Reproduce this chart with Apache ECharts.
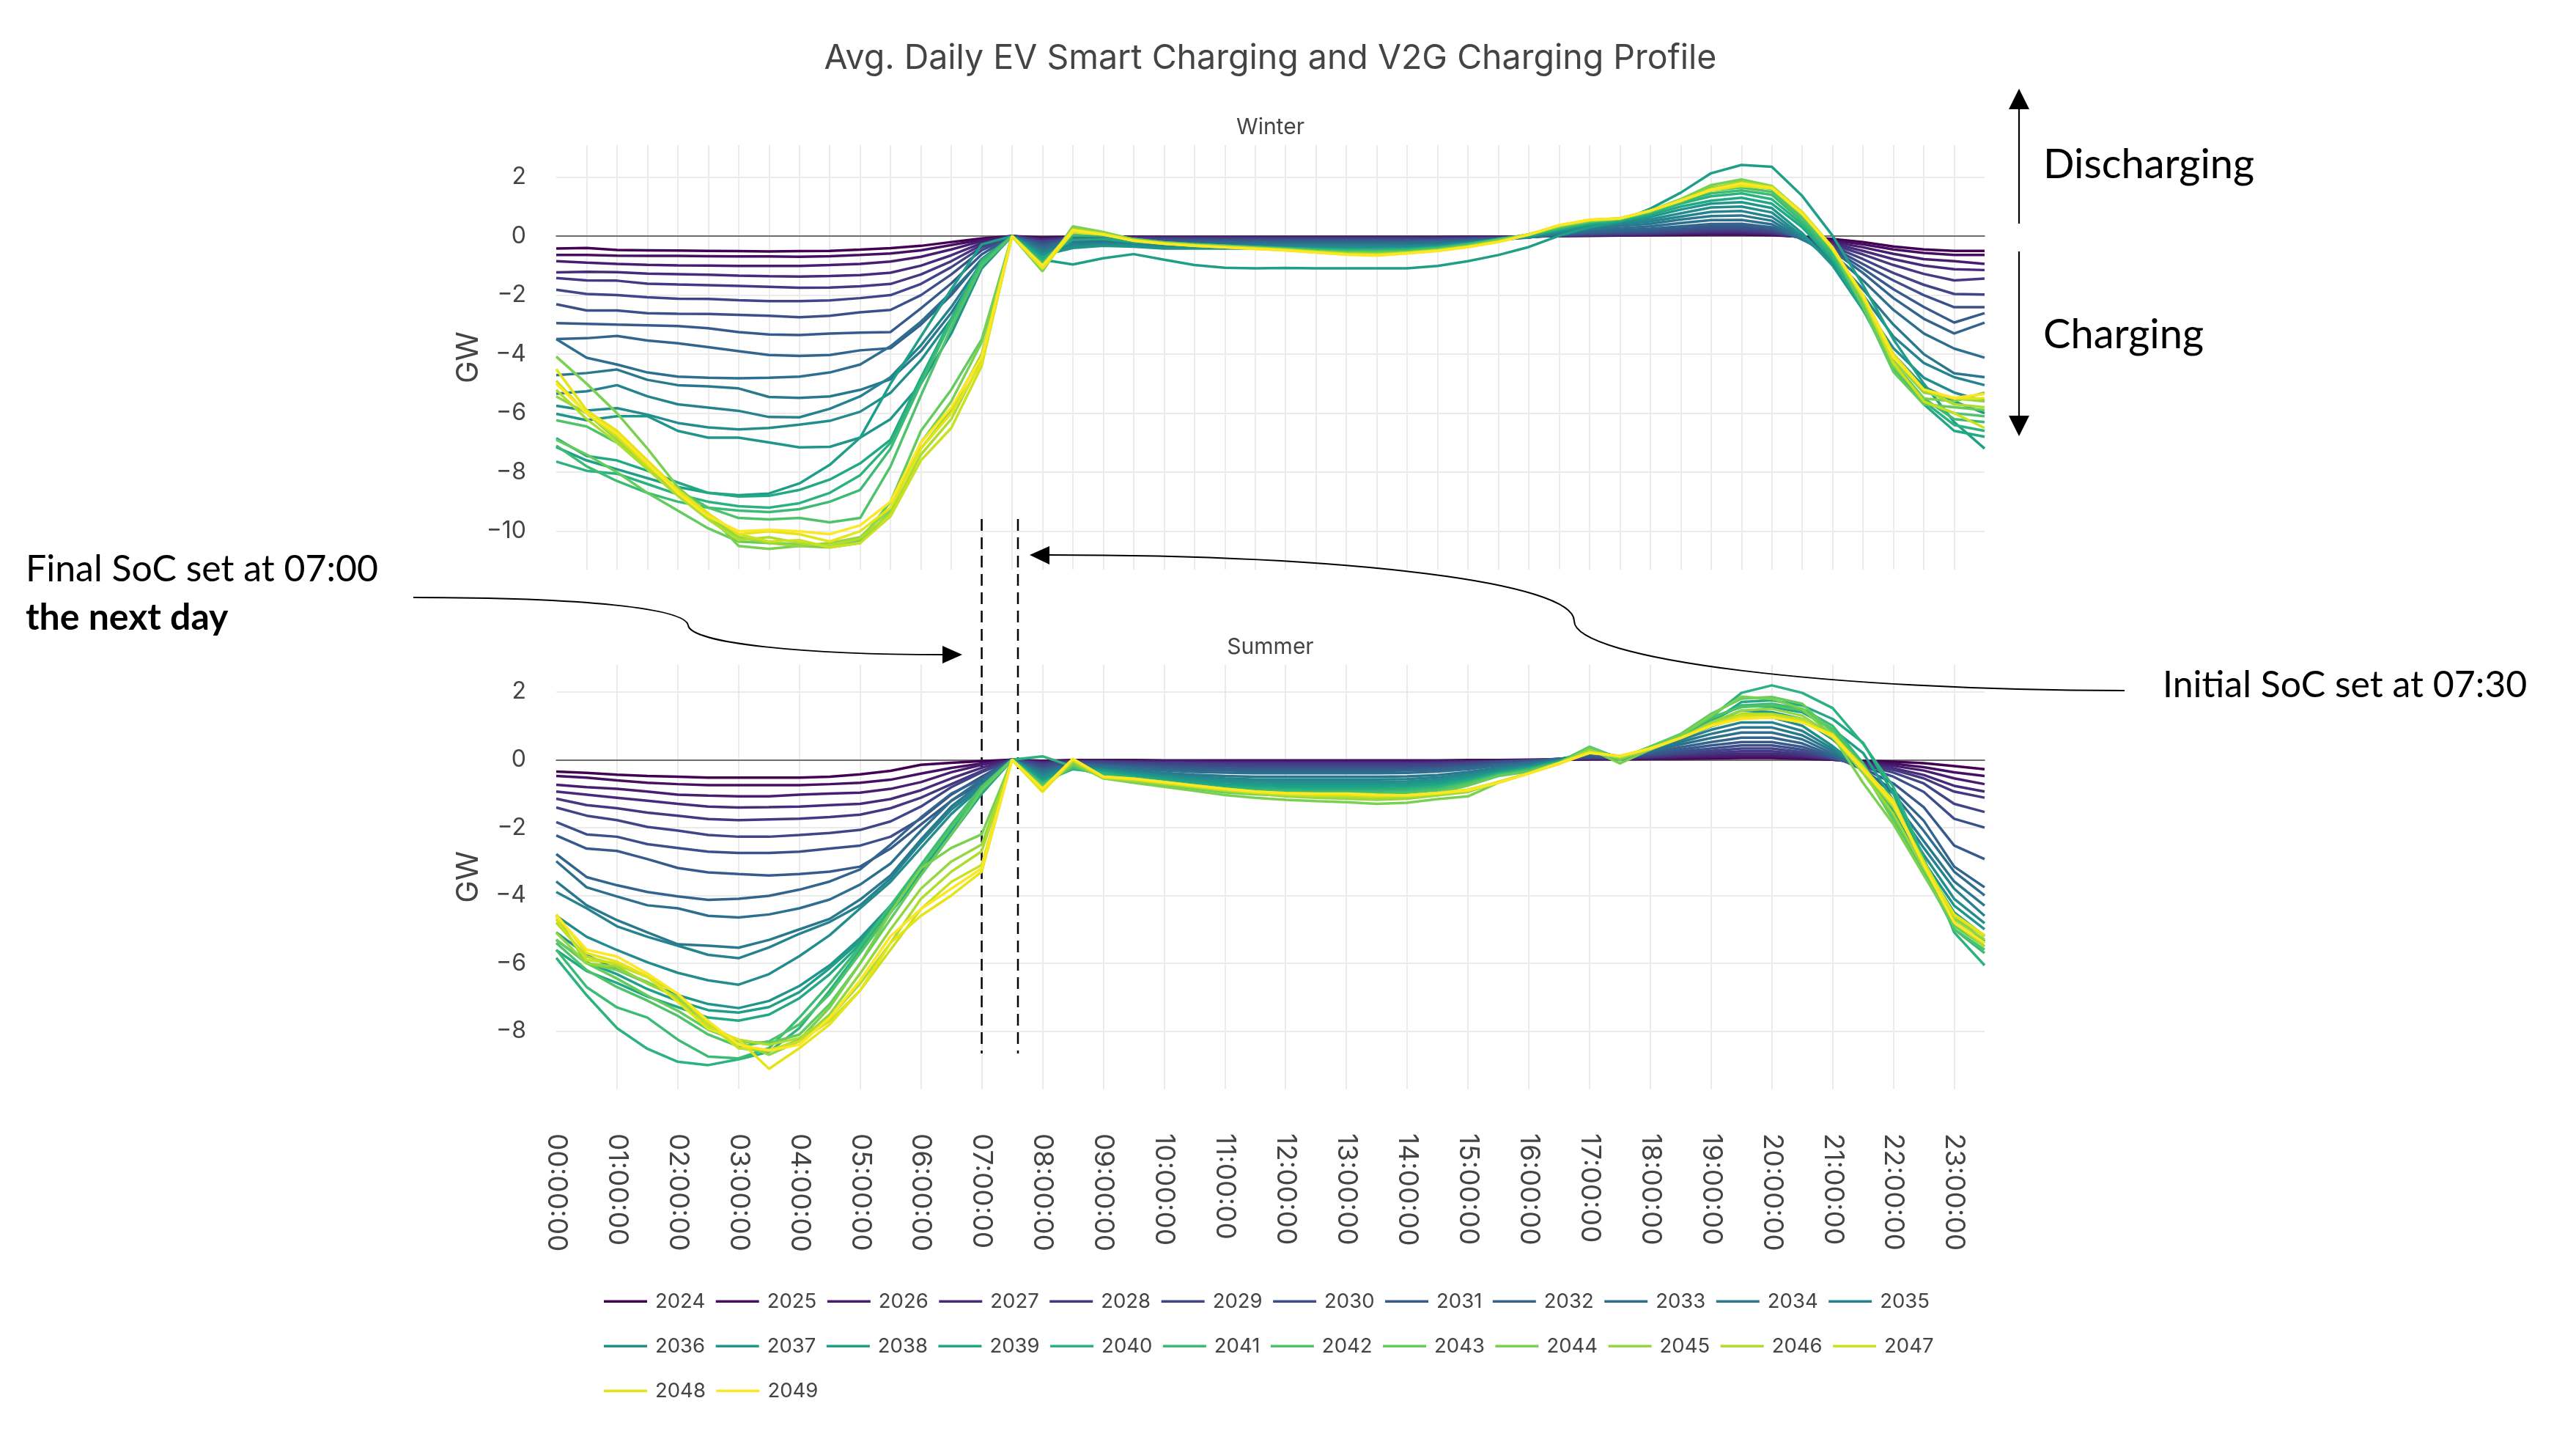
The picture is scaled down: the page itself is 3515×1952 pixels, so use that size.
<!DOCTYPE html>
<html>
<head>
<meta charset="utf-8">
<script src="https://cdn.jsdelivr.net/npm/echarts@6/dist/echarts.min.js"></script>
<style>html,body{margin:0;padding:0;background:#fff}#chart{width:3515px;height:1952px}</style>
</head>
<body>
<div id="chart"></div>
<script>
// ---------------- DATA ----------------
const categories = ['00:00:00','00:30:00','01:00:00','01:30:00','02:00:00','02:30:00','03:00:00','03:30:00','04:00:00','04:30:00','05:00:00','05:30:00','06:00:00','06:30:00','07:00:00','07:30:00','08:00:00','08:30:00','09:00:00','09:30:00','10:00:00','10:30:00','11:00:00','11:30:00','12:00:00','12:30:00','13:00:00','13:30:00','14:00:00','14:30:00','15:00:00','15:30:00','16:00:00','16:30:00','17:00:00','17:30:00','18:00:00','18:30:00','19:00:00','19:30:00','20:00:00','20:30:00','21:00:00','21:30:00','22:00:00','22:30:00','23:00:00','23:30:00'];
const years = ['2024','2025','2026','2027','2028','2029','2030','2031','2032','2033','2034','2035','2036','2037','2038','2039','2040','2041','2042','2043','2044','2045','2046','2047','2048','2049'];
const yTicksWinter = [-10,-8,-6,-4,-2,0,2];
const yTicksSummer = [-8,-6,-4,-2,0,2];

// Winter (GW), 48 half-hour values per year
const w2024 = [-0.42,-0.40,-0.47,-0.48,-0.49,-0.50,-0.51,-0.52,-0.51,-0.50,-0.46,-0.41,-0.33,-0.20,-0.08,0,
 -0.05,-0.02,-0.02,-0.02,-0.03,-0.03,-0.03,-0.03,-0.03,-0.03,-0.03,-0.03,-0.03,-0.03,-0.02,-0.02,
 -0.01,0.00,0.01,0.02,0.03,0.04,0.05,0.05,0.03,-0.02,-0.10,-0.20,-0.35,-0.45,-0.50,-0.50];
const w2025 = [-0.64,-0.64,-0.66,-0.67,-0.67,-0.68,-0.69,-0.69,-0.70,-0.68,-0.64,-0.59,-0.48,-0.30,-0.12,0,
 -0.08,-0.03,-0.03,-0.03,-0.04,-0.04,-0.04,-0.04,-0.04,-0.04,-0.04,-0.04,-0.04,-0.04,-0.03,-0.02,
 -0.01,0.01,0.02,0.03,0.04,0.06,0.07,0.08,0.05,-0.03,-0.15,-0.28,-0.45,-0.57,-0.64,-0.64];
const w2026 = [-0.85,-0.90,-0.94,-0.97,-0.99,-1.00,-1.01,-1.01,-1.01,-0.98,-0.94,-0.86,-0.70,-0.45,-0.17,0,
 -0.10,-0.04,-0.04,-0.04,-0.05,-0.05,-0.05,-0.05,-0.05,-0.05,-0.05,-0.05,-0.05,-0.05,-0.04,-0.03,
 -0.01,0.01,0.03,0.04,0.06,0.08,0.10,0.10,0.07,-0.03,-0.20,-0.38,-0.60,-0.78,-0.85,-0.94];
const w2027 = [-1.23,-1.21,-1.22,-1.27,-1.29,-1.31,-1.34,-1.36,-1.37,-1.35,-1.32,-1.24,-1.00,-0.65,-0.24,0,
 -0.13,-0.05,-0.05,-0.05,-0.06,-0.06,-0.06,-0.06,-0.06,-0.06,-0.06,-0.06,-0.06,-0.06,-0.05,-0.04,
 -0.02,0.01,0.04,0.05,0.07,0.10,0.13,0.14,0.09,-0.04,-0.25,-0.50,-0.78,-1.00,-1.12,-1.15];
const w2028 = [-1.42,-1.50,-1.51,-1.61,-1.64,-1.66,-1.69,-1.72,-1.75,-1.74,-1.70,-1.62,-1.30,-0.85,-0.30,0,
 -0.16,-0.06,-0.06,-0.07,-0.08,-0.08,-0.08,-0.08,-0.08,-0.08,-0.08,-0.08,-0.08,-0.08,-0.07,-0.05,
 -0.02,0.02,0.05,0.07,0.09,0.13,0.17,0.18,0.12,-0.05,-0.30,-0.62,-0.98,-1.28,-1.50,-1.44];
const w2029 = [-1.82,-1.96,-2.00,-2.07,-2.12,-2.13,-2.17,-2.20,-2.20,-2.18,-2.10,-2.00,-1.62,-1.05,-0.38,0,
 -0.20,-0.07,-0.08,-0.09,-0.10,-0.10,-0.10,-0.10,-0.10,-0.10,-0.10,-0.10,-0.10,-0.10,-0.08,-0.06,
 -0.03,0.02,0.06,0.09,0.12,0.16,0.21,0.22,0.15,-0.06,-0.35,-0.78,-1.25,-1.65,-1.96,-1.98];
const w2030 = [-2.31,-2.52,-2.52,-2.61,-2.63,-2.64,-2.67,-2.70,-2.75,-2.70,-2.58,-2.50,-2.00,-1.30,-0.48,0,
 -0.25,-0.08,-0.10,-0.11,-0.13,-0.13,-0.13,-0.13,-0.13,-0.13,-0.13,-0.13,-0.13,-0.12,-0.10,-0.07,
 -0.03,0.03,0.08,0.12,0.16,0.21,0.27,0.28,0.20,-0.07,-0.40,-0.95,-1.50,-2.00,-2.41,-2.41];
const w2031 = [-2.95,-2.97,-3.00,-3.02,-3.05,-3.12,-3.25,-3.33,-3.35,-3.30,-3.27,-3.25,-2.45,-1.60,-0.62,0,
 -0.30,-0.10,-0.12,-0.14,-0.16,-0.16,-0.16,-0.16,-0.16,-0.16,-0.16,-0.16,-0.16,-0.15,-0.12,-0.08,
 -0.03,0.04,0.10,0.15,0.20,0.27,0.34,0.35,0.25,-0.08,-0.45,-1.10,-1.80,-2.40,-2.93,-2.61];
const w2032 = [-3.49,-3.46,-3.38,-3.54,-3.63,-3.76,-3.90,-4.03,-4.06,-4.03,-3.87,-3.80,-3.00,-2.00,-0.78,0,
 -0.35,-0.12,-0.15,-0.17,-0.20,-0.20,-0.20,-0.20,-0.20,-0.20,-0.20,-0.20,-0.20,-0.18,-0.14,-0.09,
 -0.04,0.05,0.13,0.20,0.25,0.33,0.41,0.42,0.30,-0.10,-0.50,-1.25,-2.10,-2.80,-3.30,-2.93];
const w2033 = [-3.49,-4.12,-4.35,-4.62,-4.76,-4.80,-4.82,-4.80,-4.76,-4.62,-4.35,-3.73,-2.90,-1.90,-0.80,0,
 -0.42,-0.15,-0.18,-0.21,-0.25,-0.25,-0.25,-0.25,-0.25,-0.25,-0.25,-0.25,-0.25,-0.22,-0.17,-0.10,
 -0.04,0.07,0.18,0.27,0.33,0.44,0.54,0.55,0.40,-0.12,-0.60,-1.50,-2.50,-3.30,-3.81,-4.12];
const w2034 = [-4.71,-4.64,-4.52,-4.87,-5.05,-5.09,-5.16,-5.45,-5.48,-5.43,-5.21,-4.85,-3.90,-2.60,-1.00,0,
 -0.50,-0.20,-0.22,-0.25,-0.30,-0.30,-0.30,-0.30,-0.30,-0.30,-0.30,-0.30,-0.30,-0.27,-0.20,-0.12,
 -0.05,0.09,0.23,0.35,0.42,0.56,0.68,0.70,0.52,-0.10,-0.70,-1.80,-3.00,-4.00,-4.65,-4.78];
const w2035 = [-5.34,-5.26,-5.05,-5.43,-5.70,-5.81,-5.92,-6.13,-6.14,-5.85,-5.43,-4.78,-3.70,-2.40,-0.90,0,
 -0.55,-0.28,-0.26,-0.28,-0.33,-0.33,-0.33,-0.33,-0.33,-0.33,-0.33,-0.33,-0.33,-0.30,-0.22,-0.12,
 -0.04,0.12,0.28,0.42,0.50,0.66,0.82,0.85,0.65,-0.05,-0.80,-2.00,-3.40,-4.30,-4.78,-5.05];
const w2036 = [-5.75,-5.91,-5.83,-6.05,-6.33,-6.48,-6.55,-6.50,-6.39,-6.26,-5.95,-5.31,-4.20,-2.80,-1.00,0,
 -0.60,-0.35,-0.30,-0.32,-0.37,-0.37,-0.37,-0.37,-0.37,-0.37,-0.37,-0.37,-0.36,-0.32,-0.23,-0.12,
 -0.03,0.15,0.33,0.47,0.57,0.77,0.97,1.00,0.80,0.00,-0.90,-2.30,-3.80,-4.80,-5.30,-5.60];
const w2037 = [-6.02,-6.24,-6.10,-6.10,-6.60,-6.83,-6.83,-6.99,-7.16,-7.14,-6.83,-6.20,-5.00,-3.30,-1.10,0,
 -0.65,-0.40,-0.33,-0.36,-0.42,-0.42,-0.42,-0.42,-0.42,-0.42,-0.42,-0.42,-0.41,-0.36,-0.25,-0.12,
 -0.02,0.18,0.38,0.50,0.65,0.90,1.10,1.15,0.95,0.10,-1.00,-2.50,-4.00,-5.10,-5.60,-6.00];
const w2038 = [-7.15,-7.60,-7.90,-8.20,-8.50,-8.70,-8.78,-8.72,-8.38,-7.75,-6.83,-5.00,-3.40,-1.80,-0.28,0,
 -0.80,-0.96,-0.75,-0.61,-0.80,-0.98,-1.07,-1.09,-1.08,-1.09,-1.09,-1.09,-1.09,-1.01,-0.85,-0.64,
 -0.37,0.01,0.30,0.50,0.93,1.47,2.13,2.41,2.35,1.36,0.01,-1.66,-3.50,-5.00,-6.30,-7.20];
const w2039 = [-6.85,-7.45,-7.60,-7.95,-8.35,-8.70,-8.82,-8.80,-8.60,-8.25,-7.70,-6.90,-4.80,-2.80,-0.80,0,
 -0.75,-0.12,-0.10,-0.20,-0.25,-0.30,-0.34,-0.37,-0.40,-0.43,-0.45,-0.45,-0.43,-0.37,-0.26,-0.12,
 0.00,0.22,0.42,0.52,0.72,1.00,1.20,1.30,1.10,0.30,-0.80,-2.50,-4.40,-5.70,-6.60,-6.80];
const w2040 = [-7.64,-7.95,-8.05,-8.40,-8.75,-9.00,-9.15,-9.20,-9.05,-8.70,-8.10,-7.00,-4.90,-2.80,-0.85,0,
 -0.85,0.00,0.00,-0.15,-0.22,-0.28,-0.33,-0.37,-0.41,-0.45,-0.48,-0.48,-0.46,-0.39,-0.27,-0.10,
 0.02,0.25,0.45,0.55,0.78,1.10,1.35,1.45,1.25,0.40,-0.70,-2.40,-4.40,-5.60,-6.40,-6.60];
const w2041 = [-7.10,-7.80,-8.30,-8.70,-9.00,-9.20,-9.30,-9.35,-9.25,-9.00,-8.60,-7.20,-5.00,-2.90,-0.90,0,
 -0.90,0.10,0.05,-0.12,-0.21,-0.28,-0.33,-0.37,-0.42,-0.47,-0.50,-0.51,-0.49,-0.41,-0.28,-0.10,
 0.04,0.28,0.48,0.57,0.80,1.15,1.45,1.55,1.40,0.50,-0.60,-2.30,-4.30,-5.50,-6.20,-6.30];
const w2042 = [-6.24,-6.45,-7.00,-7.80,-8.60,-9.20,-9.55,-9.60,-9.55,-9.70,-9.55,-7.80,-5.40,-3.10,-1.00,0,
 -0.95,0.20,0.08,-0.10,-0.21,-0.28,-0.33,-0.38,-0.43,-0.49,-0.53,-0.54,-0.51,-0.43,-0.30,-0.12,
 0.05,0.30,0.50,0.58,0.82,1.18,1.55,1.65,1.50,0.60,-0.50,-2.30,-4.50,-5.60,-6.00,-6.10];
const w2043 = [-6.90,-7.40,-8.00,-8.70,-9.30,-9.90,-10.35,-10.40,-10.45,-10.50,-10.30,-9.00,-6.60,-5.20,-3.50,0,
 -1.05,0.30,0.12,-0.10,-0.22,-0.29,-0.34,-0.39,-0.44,-0.50,-0.55,-0.56,-0.53,-0.45,-0.32,-0.14,
 0.06,0.33,0.50,0.58,0.84,1.20,1.65,1.75,1.60,0.70,-0.45,-2.40,-4.60,-5.70,-5.80,-5.90];
const w2044 = [-4.08,-5.00,-6.00,-7.20,-8.50,-9.40,-10.50,-10.60,-10.50,-10.55,-10.40,-9.30,-7.00,-5.60,-3.60,0,
 -1.19,0.33,0.14,-0.12,-0.23,-0.30,-0.35,-0.40,-0.45,-0.52,-0.57,-0.59,-0.55,-0.47,-0.34,-0.16,
 0.06,0.35,0.52,0.60,0.86,1.25,1.73,1.92,1.70,0.80,-0.40,-2.20,-4.40,-5.50,-5.60,-5.30];
const w2045 = [-5.43,-6.00,-6.90,-7.80,-8.70,-9.50,-10.20,-10.40,-10.50,-10.40,-10.20,-9.20,-7.20,-5.90,-4.00,0,
 -1.10,0.25,0.10,-0.13,-0.24,-0.31,-0.36,-0.41,-0.46,-0.53,-0.59,-0.61,-0.56,-0.48,-0.35,-0.18,
 0.05,0.35,0.53,0.60,0.86,1.22,1.62,1.85,1.68,0.78,-0.45,-2.10,-4.20,-5.30,-5.50,-5.60];
const w2046 = [-5.21,-6.20,-7.00,-7.90,-8.80,-9.60,-10.30,-10.20,-10.40,-10.50,-10.25,-9.40,-7.40,-6.20,-4.20,0,
 -1.05,0.20,0.08,-0.14,-0.25,-0.32,-0.37,-0.42,-0.47,-0.54,-0.60,-0.62,-0.57,-0.49,-0.36,-0.19,
 0.05,0.36,0.54,0.60,0.86,1.20,1.60,1.80,1.68,0.80,-0.40,-2.00,-4.10,-5.20,-5.70,-5.80];
const w2047 = [-4.90,-6.00,-6.80,-7.80,-8.60,-9.40,-10.10,-10.35,-10.30,-10.55,-10.40,-9.50,-7.60,-6.50,-4.40,0,
 -1.00,0.15,0.06,-0.15,-0.25,-0.32,-0.37,-0.42,-0.47,-0.54,-0.61,-0.63,-0.57,-0.49,-0.36,-0.19,
 0.05,0.36,0.55,0.60,0.86,1.20,1.58,1.75,1.65,0.82,-0.38,-2.10,-4.30,-5.60,-6.00,-6.50];
const w2048 = [-4.51,-5.90,-6.60,-7.60,-8.60,-9.40,-10.10,-10.00,-10.10,-10.35,-10.00,-9.20,-7.20,-6.00,-4.30,0,
 -1.10,0.13,0.05,-0.15,-0.25,-0.33,-0.38,-0.43,-0.48,-0.55,-0.62,-0.65,-0.58,-0.50,-0.37,-0.20,
 0.05,0.37,0.55,0.60,0.86,1.20,1.55,1.70,1.62,0.80,-0.45,-2.00,-4.00,-5.20,-5.50,-5.50];
const w2049 = [-5.00,-6.00,-6.70,-7.70,-8.70,-9.50,-10.00,-9.95,-10.00,-10.10,-9.80,-9.00,-7.00,-5.80,-4.10,0,
 -1.00,0.21,0.06,-0.16,-0.26,-0.33,-0.38,-0.43,-0.48,-0.56,-0.63,-0.66,-0.58,-0.50,-0.37,-0.20,
 0.05,0.37,0.56,0.60,0.86,1.20,1.57,1.79,1.63,0.75,-0.40,-2.00,-4.10,-5.20,-5.48,-5.35];

// Summer (GW)
const s2024 = [-0.35,-0.39,-0.44,-0.48,-0.50,-0.53,-0.53,-0.53,-0.53,-0.50,-0.43,-0.33,-0.15,-0.09,-0.04,0,
 -0.03,-0.01,-0.01,-0.01,-0.02,-0.02,-0.02,-0.02,-0.02,-0.02,-0.02,-0.02,-0.02,-0.02,-0.01,-0.01,
 0.00,0.00,0.01,0.01,0.02,0.03,0.04,0.05,0.05,0.03,0.00,-0.03,-0.06,-0.10,-0.19,-0.28];
const s2025 = [-0.48,-0.53,-0.61,-0.68,-0.72,-0.75,-0.75,-0.75,-0.75,-0.72,-0.68,-0.59,-0.41,-0.24,-0.11,0,
 -0.05,-0.02,-0.02,-0.02,-0.03,-0.03,-0.04,-0.04,-0.04,-0.04,-0.04,-0.04,-0.04,-0.03,-0.03,-0.02,
 -0.01,0.00,0.02,0.02,0.03,0.05,0.07,0.08,0.08,0.05,0.00,-0.06,-0.12,-0.22,-0.37,-0.48];
const s2026 = [-0.74,-0.81,-0.86,-0.94,-1.03,-1.06,-1.08,-1.08,-1.03,-1.00,-0.97,-0.86,-0.66,-0.37,-0.15,0,
 -0.07,-0.03,-0.03,-0.04,-0.05,-0.05,-0.06,-0.06,-0.06,-0.06,-0.06,-0.06,-0.06,-0.05,-0.04,-0.03,
 -0.01,0.01,0.03,0.03,0.05,0.08,0.10,0.12,0.12,0.08,0.00,-0.08,-0.18,-0.32,-0.55,-0.72];
const s2027 = [-0.94,-1.03,-1.12,-1.21,-1.30,-1.38,-1.41,-1.40,-1.38,-1.34,-1.30,-1.16,-0.90,-0.55,-0.24,0,
 -0.09,-0.04,-0.05,-0.06,-0.07,-0.08,-0.09,-0.09,-0.09,-0.09,-0.09,-0.09,-0.09,-0.08,-0.06,-0.04,
 -0.02,0.01,0.04,0.04,0.07,0.11,0.15,0.18,0.18,0.12,0.02,-0.10,-0.25,-0.45,-0.77,-0.94];
const s2028 = [-1.15,-1.34,-1.43,-1.56,-1.65,-1.75,-1.78,-1.76,-1.74,-1.69,-1.62,-1.43,-1.12,-0.72,-0.33,0,
 -0.12,-0.05,-0.06,-0.08,-0.09,-0.10,-0.11,-0.12,-0.12,-0.12,-0.12,-0.12,-0.12,-0.10,-0.08,-0.05,
 -0.02,0.02,0.05,0.05,0.09,0.15,0.20,0.25,0.25,0.17,0.03,-0.12,-0.30,-0.55,-0.94,-1.12];
const s2029 = [-1.41,-1.65,-1.78,-1.98,-2.09,-2.22,-2.27,-2.27,-2.22,-2.16,-2.07,-1.82,-1.38,-0.81,-0.37,0,
 -0.15,-0.06,-0.08,-0.10,-0.12,-0.13,-0.15,-0.16,-0.16,-0.16,-0.16,-0.16,-0.16,-0.14,-0.10,-0.06,
 -0.03,0.02,0.06,0.06,0.12,0.19,0.26,0.33,0.33,0.23,0.04,-0.15,-0.38,-0.70,-1.30,-1.54];
const s2030 = [-1.84,-2.20,-2.27,-2.49,-2.60,-2.71,-2.75,-2.75,-2.71,-2.62,-2.53,-2.27,-1.74,-1.03,-0.50,0,
 -0.20,-0.08,-0.11,-0.14,-0.17,-0.19,-0.21,-0.22,-0.22,-0.22,-0.22,-0.22,-0.22,-0.19,-0.14,-0.08,
 -0.03,0.03,0.08,0.07,0.15,0.24,0.33,0.42,0.42,0.30,0.05,-0.20,-0.50,-0.95,-1.74,-2.00];
const s2031 = [-2.23,-2.62,-2.69,-2.93,-3.19,-3.32,-3.37,-3.41,-3.37,-3.30,-3.15,-2.62,-1.91,-1.21,-0.68,0,
 -0.25,-0.10,-0.14,-0.18,-0.22,-0.25,-0.27,-0.28,-0.28,-0.28,-0.28,-0.28,-0.28,-0.24,-0.18,-0.12,
 -0.06,0.02,0.12,0.08,0.18,0.30,0.42,0.52,0.52,0.38,0.08,-0.25,-0.70,-1.40,-2.53,-2.93];
const s2032 = [-2.78,-3.46,-3.70,-3.90,-4.03,-4.13,-4.10,-4.01,-3.83,-3.59,-3.23,-2.50,-1.70,-1.00,-0.55,0,
 -0.30,-0.12,-0.17,-0.22,-0.27,-0.30,-0.32,-0.33,-0.33,-0.33,-0.33,-0.33,-0.32,-0.29,-0.22,-0.15,
 -0.08,0.02,0.15,0.09,0.22,0.37,0.52,0.65,0.65,0.48,0.12,-0.30,-0.90,-1.80,-3.15,-3.76];
const s2033 = [-2.99,-3.76,-4.03,-4.29,-4.38,-4.60,-4.65,-4.56,-4.38,-4.12,-3.68,-3.06,-2.09,-1.21,-0.59,0,
 -0.35,-0.15,-0.20,-0.26,-0.32,-0.36,-0.38,-0.40,-0.40,-0.40,-0.40,-0.40,-0.39,-0.35,-0.28,-0.18,
 -0.10,0.02,0.18,0.10,0.26,0.45,0.64,0.80,0.80,0.60,0.18,-0.30,-1.00,-2.10,-3.30,-4.00];
const s2034 = [-3.59,-4.29,-4.73,-5.09,-5.44,-5.48,-5.54,-5.31,-5.00,-4.69,-4.12,-3.41,-2.35,-1.38,-0.68,0,
 -0.40,-0.18,-0.25,-0.32,-0.39,-0.44,-0.48,-0.50,-0.50,-0.50,-0.50,-0.50,-0.49,-0.45,-0.36,-0.24,
 -0.14,0.00,0.22,0.10,0.30,0.52,0.76,0.95,0.95,0.72,0.25,-0.30,-1.20,-2.40,-3.59,-4.30];
const s2035 = [-3.90,-4.38,-4.91,-5.22,-5.48,-5.75,-5.85,-5.53,-5.13,-4.78,-4.29,-3.50,-2.44,-1.47,-0.77,0,
 -0.45,-0.20,-0.28,-0.36,-0.44,-0.50,-0.55,-0.58,-0.58,-0.58,-0.58,-0.58,-0.57,-0.52,-0.42,-0.28,
 -0.17,-0.02,0.25,0.10,0.33,0.58,0.88,1.10,1.10,0.85,0.32,-0.30,-1.30,-2.60,-3.80,-4.60];
const s2036 = [-4.60,-5.22,-5.61,-5.97,-6.28,-6.50,-6.63,-6.32,-5.79,-5.17,-4.38,-3.60,-2.60,-1.60,-0.80,0,
 -0.50,-0.22,-0.30,-0.40,-0.48,-0.55,-0.60,-0.64,-0.65,-0.65,-0.65,-0.65,-0.64,-0.58,-0.47,-0.32,
 -0.20,-0.03,0.28,0.08,0.35,0.62,0.98,1.25,1.25,1.00,0.40,-0.30,-1.40,-2.80,-4.10,-4.82];
const s2037 = [-5.09,-5.75,-6.19,-6.58,-6.94,-7.20,-7.32,-7.11,-6.67,-6.06,-5.26,-4.30,-3.20,-2.00,-0.90,0,
 -0.55,-0.24,-0.32,-0.43,-0.52,-0.60,-0.66,-0.70,-0.72,-0.72,-0.72,-0.72,-0.70,-0.64,-0.52,-0.35,
 -0.22,-0.04,0.30,0.06,0.35,0.66,1.08,1.45,1.40,1.20,0.60,-0.20,-1.50,-3.00,-4.30,-5.00];
const s2038 = [-5.31,-5.97,-6.32,-6.76,-7.11,-7.38,-7.45,-7.29,-6.85,-6.14,-5.35,-4.40,-3.30,-2.10,-1.00,0,
 -0.60,-0.26,-0.35,-0.46,-0.56,-0.65,-0.72,-0.76,-0.78,-0.78,-0.78,-0.78,-0.76,-0.70,-0.56,-0.38,
 -0.24,-0.05,0.32,0.05,0.36,0.70,1.15,1.60,1.55,1.40,0.90,0.20,-1.20,-3.10,-4.50,-5.20];
const s2039 = [-5.61,-6.23,-6.58,-6.98,-7.29,-7.60,-7.69,-7.51,-7.03,-6.32,-5.44,-4.50,-3.40,-2.20,-1.00,0,
 -0.65,-0.28,-0.38,-0.50,-0.60,-0.70,-0.78,-0.82,-0.85,-0.85,-0.85,-0.85,-0.82,-0.76,-0.60,-0.40,
 -0.26,-0.06,0.34,0.04,0.37,0.72,1.10,1.70,1.75,1.60,1.20,0.50,-1.00,-3.00,-4.60,-5.35];
const s2040 = [-5.84,-6.94,-7.91,-8.52,-8.90,-9.00,-8.83,-8.61,-7.91,-6.80,-5.60,-4.40,-3.20,-2.00,-0.90,0,
 0.10,-0.20,-0.40,-0.53,-0.64,-0.74,-0.82,-0.86,-0.89,-0.90,-0.90,-0.90,-0.87,-0.80,-0.64,-0.42,
 -0.28,-0.07,0.38,0.03,0.38,0.75,1.25,1.97,2.19,1.97,1.52,0.47,-0.80,-2.90,-5.09,-6.06];
const s2041 = [-5.60,-6.70,-7.30,-7.60,-8.25,-8.75,-8.80,-8.50,-7.60,-6.60,-5.50,-4.30,-3.10,-1.90,-0.80,0,
 -0.70,-0.24,-0.45,-0.56,-0.67,-0.77,-0.86,-0.90,-0.93,-0.95,-0.95,-0.95,-0.92,-0.86,-0.68,-0.45,
 -0.30,-0.08,0.34,0.02,0.38,0.73,1.20,1.60,1.65,1.50,1.00,-0.10,-1.60,-3.20,-5.00,-5.70];
const s2042 = [-5.40,-6.20,-6.70,-7.10,-7.55,-8.10,-8.45,-8.30,-7.80,-6.90,-5.70,-4.50,-3.20,-2.00,-0.80,0,
 -0.75,-0.20,-0.48,-0.60,-0.70,-0.80,-0.90,-0.95,-0.98,-1.00,-1.00,-1.00,-0.97,-0.90,-0.70,-0.46,
 -0.32,-0.09,0.36,0.00,0.38,0.74,1.25,1.55,1.60,1.45,0.90,-0.20,-1.70,-3.30,-5.00,-5.60];
const s2043 = [-5.30,-6.00,-6.45,-6.95,-7.40,-7.95,-8.30,-8.35,-8.10,-7.20,-6.00,-4.70,-3.40,-2.20,-0.90,0,
 -0.80,-0.15,-0.50,-0.63,-0.74,-0.85,-0.96,-1.02,-1.06,-1.10,-1.10,-1.10,-1.06,-0.98,-0.76,-0.48,
 -0.35,-0.10,0.38,-0.02,0.38,0.76,1.35,1.80,1.85,1.65,0.80,-0.30,-1.80,-3.40,-4.90,-5.50];
const s2044 = [-4.60,-6.00,-6.20,-6.55,-7.00,-7.70,-8.50,-8.60,-8.25,-7.30,-6.00,-4.50,-3.20,-2.60,-2.20,0,
 -0.85,-0.10,-0.55,-0.68,-0.80,-0.92,-1.04,-1.12,-1.18,-1.22,-1.25,-1.30,-1.27,-1.16,-1.08,-0.68,
 -0.40,-0.12,0.32,-0.11,0.30,0.70,1.30,1.86,1.79,1.50,0.70,-0.68,-1.90,-3.40,-4.80,-5.40];
const s2045 = [-5.10,-6.00,-6.10,-6.60,-7.00,-7.80,-8.30,-8.70,-8.30,-7.50,-6.30,-5.00,-3.80,-3.00,-2.50,0,
 -0.90,-0.05,-0.55,-0.62,-0.72,-0.82,-0.92,-1.00,-1.08,-1.12,-1.15,-1.18,-1.15,-1.05,-0.95,-0.65,
 -0.40,-0.10,0.28,0.05,0.30,0.64,1.10,1.45,1.50,1.30,0.70,-0.40,-1.60,-3.20,-4.70,-5.30];
const s2046 = [-4.80,-5.80,-6.05,-6.40,-7.10,-7.90,-8.25,-8.40,-8.20,-7.60,-6.60,-5.40,-4.10,-3.30,-2.70,0,
 -0.92,-0.02,-0.53,-0.60,-0.70,-0.80,-0.90,-0.98,-1.04,-1.08,-1.10,-1.12,-1.10,-1.02,-0.92,-0.66,
 -0.40,-0.10,0.25,0.08,0.32,0.64,1.05,1.35,1.35,1.20,0.65,-0.30,-1.40,-3.00,-4.80,-5.50];
const s2047 = [-4.70,-5.90,-6.00,-6.40,-6.90,-7.80,-8.50,-8.55,-8.30,-7.70,-6.80,-5.60,-4.40,-3.60,-3.10,0,
 -0.90,0.00,-0.52,-0.58,-0.68,-0.78,-0.88,-0.96,-1.02,-1.05,-1.05,-1.08,-1.06,-1.00,-0.90,-0.66,
 -0.40,-0.10,0.22,0.10,0.33,0.64,1.02,1.30,1.30,1.15,0.70,-0.20,-1.30,-3.00,-4.60,-5.20];
const s2048 = [-4.56,-5.70,-5.95,-6.38,-7.14,-7.93,-8.25,-9.11,-8.50,-7.80,-6.80,-5.40,-4.60,-4.00,-3.30,0,
 -0.95,0.02,-0.50,-0.56,-0.66,-0.76,-0.86,-0.94,-1.00,-1.02,-1.02,-1.06,-1.04,-0.98,-0.88,-0.66,
 -0.40,-0.12,0.20,0.11,0.33,0.64,1.00,1.25,1.25,1.10,0.75,-0.25,-1.20,-3.10,-4.56,-5.17];
const s2049 = [-4.60,-5.60,-5.80,-6.30,-6.90,-7.70,-8.40,-8.57,-8.40,-7.60,-6.50,-5.20,-4.40,-3.80,-3.20,0,
 -0.85,0.03,-0.50,-0.56,-0.66,-0.76,-0.86,-0.94,-0.98,-1.00,-1.00,-1.03,-1.05,-0.99,-0.90,-0.68,
 -0.41,-0.10,0.20,0.11,0.33,0.64,1.00,1.20,1.25,1.10,0.70,-0.30,-1.30,-3.10,-4.80,-5.40];

const winterSeries = [w2024,w2025,w2026,w2027,w2028,w2029,w2030,w2031,w2032,w2033,w2034,w2035,w2036,w2037,w2038,w2039,w2040,w2041,w2042,w2043,w2044,w2045,w2046,w2047,w2048,w2049];
const summerSeries = [s2024,s2025,s2026,s2027,s2028,s2029,s2030,s2031,s2032,s2033,s2034,s2035,s2036,s2037,s2038,s2039,s2040,s2041,s2042,s2043,s2044,s2045,s2046,s2047,s2048,s2049];

// ---------------- STYLE ----------------
const VIRIDIS = ['#440154','#471365','#482475','#463480','#414487','#3b528b','#355f8d','#2f6c8e','#2a788e','#25848e','#21918c','#1e9c89','#22a884','#2fb47c','#44bf70','#5ec962','#7ad151','#9bd93c','#bddf26','#dfe318','#fde725'];
function hexToRgb(h){return [parseInt(h.slice(1,3),16),parseInt(h.slice(3,5),16),parseInt(h.slice(5,7),16)];}
function viridisAt(t){
  const p = t*(VIRIDIS.length-1);
  const i = Math.min(Math.floor(p), VIRIDIS.length-2);
  const f = p - i;
  const a = hexToRgb(VIRIDIS[i]), b = hexToRgb(VIRIDIS[i+1]);
  const c = a.map((v,j)=>Math.round(v+(b[j]-v)*f));
  return 'rgb('+c.join(',')+')';
}
const colors = years.map((y,k)=>viridisAt(k/(years.length-1)));

const FONT = 'Inter, "Noto Sans", sans-serif';
const ANNOT = 'Lato, "Open Sans", sans-serif';
const TXT = '#444';
const GRIDC = '#ebebeb';
const minusFmt = v => (v < 0 ? '\u2212' + Math.abs(v) : String(v));

const series = [];
years.forEach((y,k)=>{
  series.push({name:y, type:'line', xAxisIndex:0, yAxisIndex:0, data:winterSeries[k],
    symbol:'none', showSymbol:false, silent:true, emphasis:{disabled:true},
    lineStyle:{width:3.5, color:colors[k]}, itemStyle:{color:colors[k]}});
});
years.forEach((y,k)=>{
  series.push({name:y, type:'line', xAxisIndex:2, yAxisIndex:1, data:summerSeries[k],
    symbol:'none', showSymbol:false, silent:true, emphasis:{disabled:true},
    lineStyle:{width:3.5, color:colors[k]}, itemStyle:{color:colors[k]}});
});

function zeroAxis(gi){
  return {gridIndex:gi, type:'category', data:categories, boundaryGap:false, position:'top',
    axisLine:{show:true, onZero:true, lineStyle:{color:'#444', width:1.5}},
    axisTick:{show:false}, axisLabel:{show:false}, splitLine:{show:false}};
}

const option = {
  animation:false,
  backgroundColor:'#ffffff',
  grid:[
    {left:759, top:198, width:1949, height:579, outerBoundsMode:'none'},
    {left:759, top:906.5, width:1949, height:579.5, outerBoundsMode:'none'}
  ],
  xAxis:[
    {gridIndex:0, type:'category', data:categories, boundaryGap:false, position:'bottom',
      axisLine:{show:false, onZero:false}, axisTick:{show:false}, axisLabel:{show:false},
      splitLine:{show:true, interval:(i)=> i>0 && i<47, lineStyle:{color:GRIDC, width:2}}},
    zeroAxis(0),
    {gridIndex:1, type:'category', data:categories, boundaryGap:false, position:'bottom',
      axisLine:{show:false, onZero:false}, axisTick:{show:false},
      axisLabel:{show:true, interval:1, rotate:-90, margin:60, fontSize:37, fontFamily:FONT, color:TXT},
      splitLine:{show:true, interval:(i)=> i>0 && i<47 && i%2===0, lineStyle:{color:GRIDC, width:2}}},
    zeroAxis(1)
  ],
  yAxis:[
    {gridIndex:0, type:'value', min:-11.3, max:3.082,
      name:'GW', nameLocation:'middle', nameGap:99, nameMoveOverlap:false,
      nameTextStyle:{fontSize:41, fontFamily:FONT, color:TXT},
      axisLine:{show:false}, axisTick:{show:false, customValues:yTicksWinter},
      axisLabel:{customValues:yTicksWinter, margin:41, fontSize:32, fontFamily:FONT, color:TXT, formatter:minusFmt},
      splitLine:{show:true, lineStyle:{color:GRIDC, width:2}}},
    {gridIndex:1, type:'value', min:-9.715, max:2.804,
      name:'GW', nameLocation:'middle', nameGap:99, nameMoveOverlap:false,
      nameTextStyle:{fontSize:41, fontFamily:FONT, color:TXT},
      axisLine:{show:false}, axisTick:{show:false, customValues:yTicksSummer},
      axisLabel:{customValues:yTicksSummer, margin:41, fontSize:32, fontFamily:FONT, color:TXT, formatter:minusFmt},
      splitLine:{show:true, lineStyle:{color:GRIDC, width:2}}}
  ],
  legend:{
    show:true, data:years, left:824, top:1752, width:1860, padding:0,
    orient:'horizontal', icon:'rect', itemWidth:59, itemHeight:3.5, itemGap:14.5,
    selectedMode:false,
    textStyle:{fontSize:27.5, fontFamily:FONT, color:TXT, lineHeight:46.5, padding:[0,0,0,6]}
  },
  series:series
};

const chart = echarts.init(document.getElementById('chart'), null, {renderer:'canvas', width:3515, height:1952});
chart.setOption(option);

// ---------------- ANNOTATIONS ----------------
const x07 = chart.convertToPixel({xAxisIndex:2}, categories[14]);
const xInit = 1389;
const plotMid = 759 + 1949/2;

function txt(x, y, s, size, fam, opts){
  return {type:'text', x:x, y:y, silent:true, style:Object.assign({
    text:s, fontSize:size, fontFamily:fam, fill:'#000', align:'left', verticalAlign:'middle'}, opts||{})};
}

const graphics = [
  txt(plotMid, 80, 'Avg. Daily EV Smart Charging and V2G Charging Profile', 46.5, FONT, {fill:TXT, align:'center'}),
  txt(plotMid, 174, 'Winter', 30, FONT, {fill:TXT, align:'center'}),
  txt(plotMid, 883, 'Summer', 30, FONT, {fill:TXT, align:'center'}),
  txt(2788, 225, 'Discharging', 56, ANNOT),
  txt(2788, 457, 'Charging', 56, ANNOT),
  txt(35, 777, 'Final SoC set at 07:00', 50, ANNOT),
  txt(35, 843, 'the next day', 50, ANNOT, {fontWeight:'bold'}),
  txt(2951, 935, 'Initial SoC set at 07:30', 50, ANNOT),
  // vertical arrows
  {type:'line', silent:true, shape:{x1:2755, y1:305, x2:2755, y2:146}, style:{stroke:'#000', lineWidth:2.2}},
  {type:'polygon', silent:true, shape:{points:[[2755,121],[2741,149],[2769,149]]}, style:{fill:'#000'}},
  {type:'line', silent:true, shape:{x1:2755, y1:343, x2:2755, y2:570}, style:{stroke:'#000', lineWidth:2.2}},
  {type:'polygon', silent:true, shape:{points:[[2755,595],[2741,567],[2769,567]]}, style:{fill:'#000'}},
  // dashed SoC lines
  {type:'line', silent:true, shape:{x1:x07, y1:708, x2:x07, y2:1437}, style:{stroke:'#000', lineWidth:2.5, lineDash:[16,9]}},
  {type:'line', silent:true, shape:{x1:xInit, y1:708, x2:xInit, y2:1437}, style:{stroke:'#000', lineWidth:2.5, lineDash:[16,9]}},
  // Final SoC connector
  {type:'bezierCurve', silent:true, shape:{x1:564, y1:815, cpx1:800, cpy1:815, cpx2:935, cpy2:830, x2:939, y2:853}, style:{stroke:'#000', lineWidth:2, fill:null}},
  {type:'bezierCurve', silent:true, shape:{x1:939, y1:853, cpx1:943, cpy1:878, cpx2:1100, cpy2:893, x2:1288, y2:893}, style:{stroke:'#000', lineWidth:2, fill:null}},
  {type:'polygon', silent:true, shape:{points:[[1313,893],[1286,881],[1286,905]]}, style:{fill:'#000'}},
  // Initial SoC connector
  {type:'polygon', silent:true, shape:{points:[[1405,757],[1432,745],[1432,770]]}, style:{fill:'#000'}},
  {type:'bezierCurve', silent:true, shape:{x1:1430, y1:757, cpx1:1850, cpy1:757, cpx2:2148, cpy2:795, x2:2148, y2:847}, style:{stroke:'#000', lineWidth:2, fill:null}},
  {type:'bezierCurve', silent:true, shape:{x1:2148, y1:847, cpx1:2148, cpy1:900, cpx2:2500, cpy2:942, x2:2899, y2:942}, style:{stroke:'#000', lineWidth:2, fill:null}}
];
chart.setOption({graphic:graphics});
</script>
</body>
</html>
